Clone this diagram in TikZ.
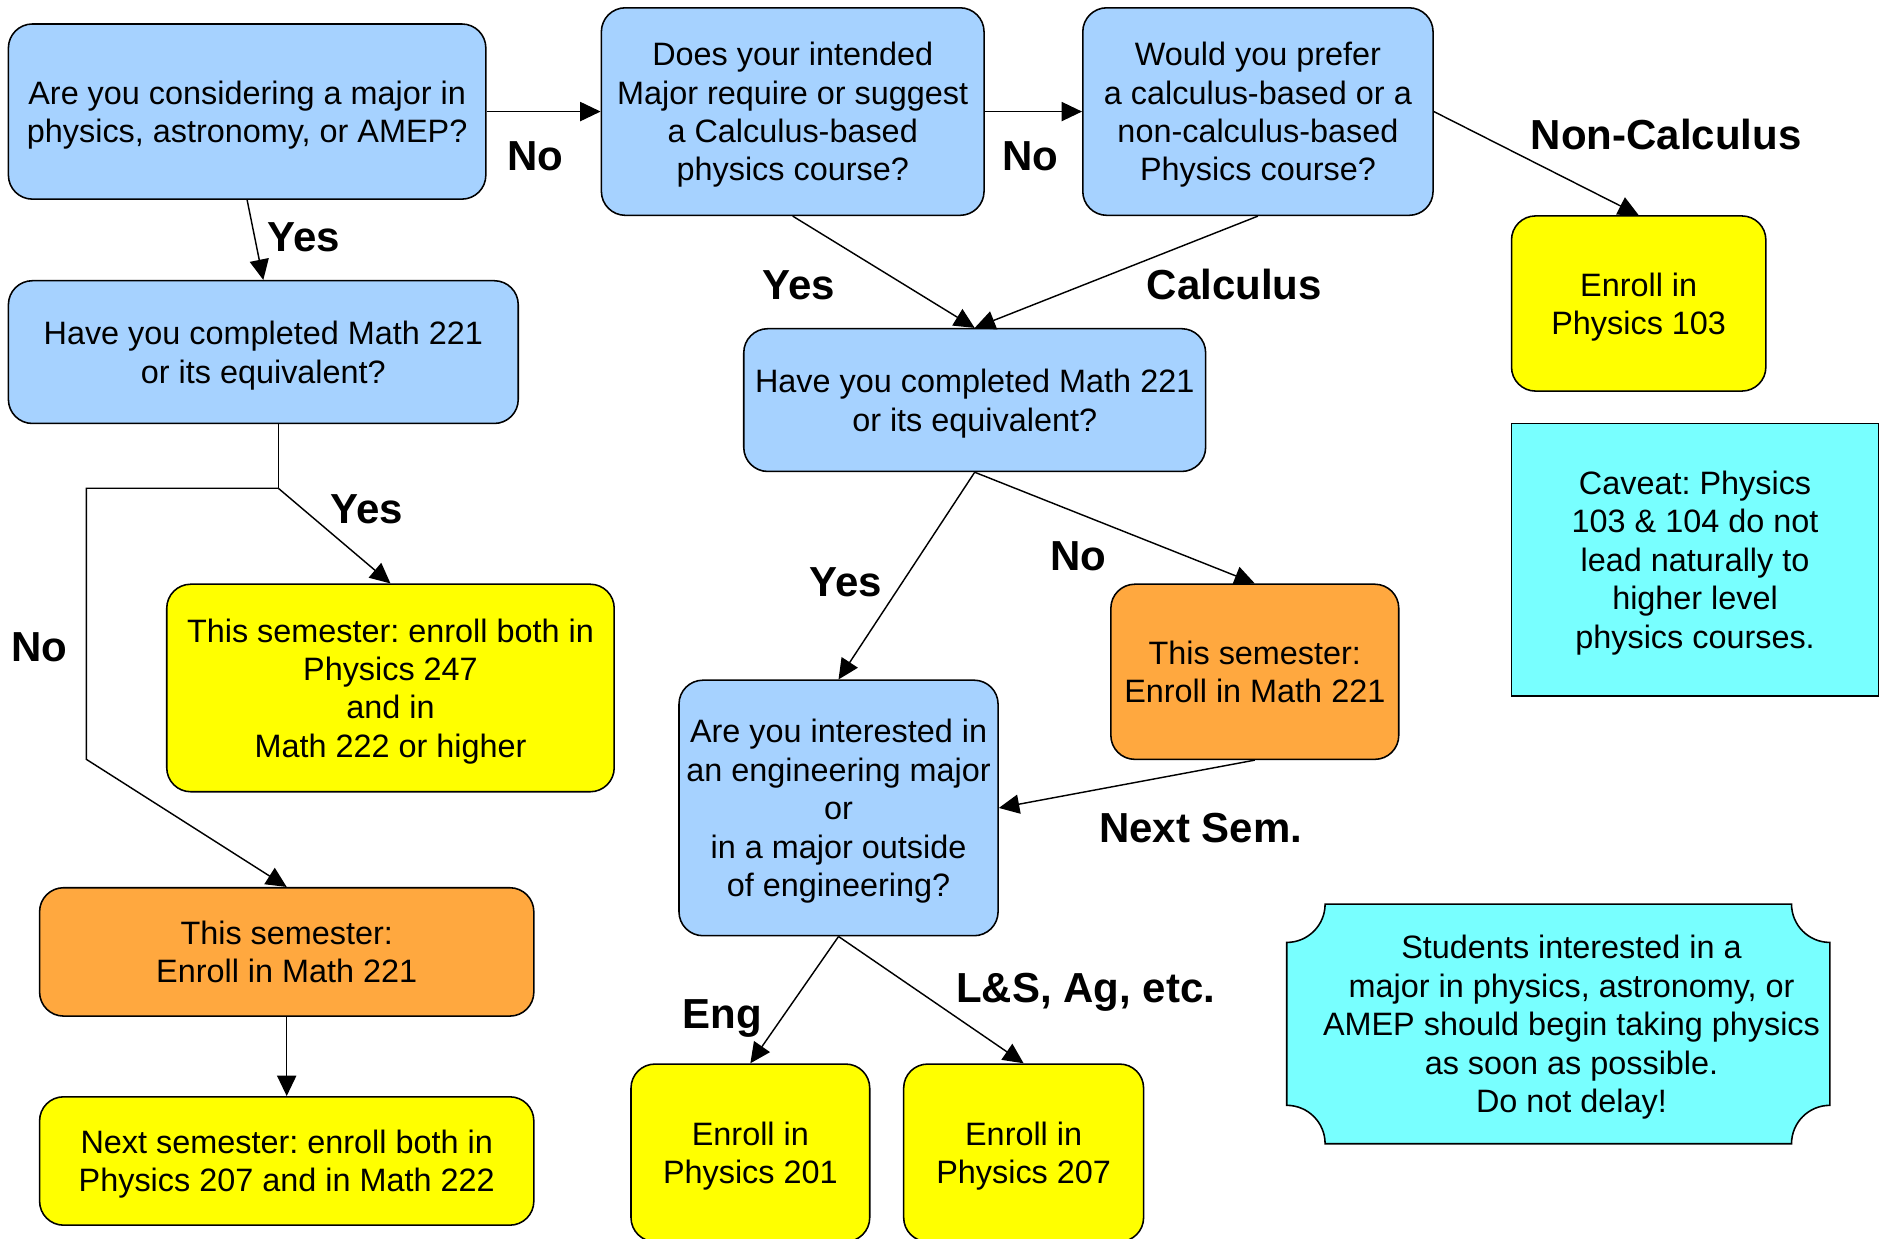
\documentclass[tikz,border=0pt]{standalone}
\usepackage{fontspec}
\setmainfont{Liberation Sans}
\usetikzlibrary{positioning,arrows.meta,backgrounds}

\definecolor{qblue}{HTML}{A6D2FF}
\definecolor{yel}{HTML}{FFFF00}
\definecolor{org}{HTML}{FFA83F}
\definecolor{cyn}{HTML}{78FFFF}

\newcommand{\boxfont}{\fontsize{13.5}{16}\selectfont\frenchspacing}
\newcommand{\lblfont}{\fontsize{17.5}{20}\selectfont\bfseries}

\tikzset{
  txt/.style={align=center, inner sep=2pt, font=\boxfont, text depth=-1.2pt},
  box/.style={txt, draw, line width=0.65pt, rounded corners=10pt},
  qbox/.style={box, fill=qblue},
  ybox/.style={box, fill=yel},
  obox/.style={box, fill=org},
  lbl/.style={font=\lblfont, inner sep=0pt, text height=12.5pt, text depth=0pt},
  arr/.style={-{Triangle[length=8.5pt,width=8pt]}, line width=0.6pt},
}

\begin{document}
\begin{tikzpicture}[x=0.5pt,y=-0.5pt]
\useasboundingbox (0,0) rectangle (1568,1032);

% questions
\node[qbox, minimum width=199pt, minimum height=73pt](q1) at (206,93)
  {Are you considering a major in\\physics, astronomy, or AMEP?};
\node[qbox, minimum width=159.5pt, minimum height=86.5pt](q2)[right=47.5pt of q1]
  {Does your intended\\Major require or suggest\\a Calculus-based\\physics course?};
\node[qbox, minimum width=146pt, minimum height=86.5pt](q3)[right=40.5pt of q2]
  {Would you prefer\\a calculus-based or a\\non-calculus-based\\Physics course?};
\node[qbox, minimum width=212.5pt, minimum height=59.5pt](q4) at (219.5,293.5)
  {Have you completed Math 221\\or its equivalent?};
\node[qbox, minimum width=192.5pt, minimum height=59.5pt](q5) at (812.5,333.5)
  {Have you completed Math 221\\or its equivalent?};
\node[qbox, minimum width=133pt, minimum height=106.5pt](q6) at (699,673.5)
  {Are you interested in\\an engineering major\\or\\in a major outside\\of engineering?};

% outcomes
\node[ybox, minimum width=106pt, minimum height=73pt](e103) at (1366,253)
  {Enroll in\\Physics 103};
\node[ybox, minimum width=186.5pt, minimum height=86.5pt](y247) at (325.5,573.5)
  {This semester: enroll both in\\Physics 247\\and in\\Math 222 or higher};
\node[obox, minimum width=206pt, minimum height=53.5pt](o221a) at (239,793.5)
  {This semester:\\Enroll in Math 221};
\node[ybox, minimum width=206pt, minimum height=53.5pt](y207)[below=33pt of o221a]
  {Next semester: enroll both in\\Physics 207 and in Math 222};
\node[obox, minimum width=120pt, minimum height=73pt](o221b) at (1046,560)
  {This semester:\\Enroll in Math 221};
\node[ybox, minimum width=99.5pt, minimum height=74pt](e201) at (625.5,961)
  {Enroll in\\Physics 201};
\node[ybox, minimum width=100pt, minimum height=74pt](e207)[right=13.5pt of e201]
  {Enroll in\\Physics 207};

% notes
\node[txt, draw, line width=0.65pt, fill=cyn,
  minimum width=153pt, minimum height=113.5pt](caveat) at (1413,466.5)
  {Caveat: Physics\\103 \& 104 do not\\lead naturally to\\higher level\\physics courses.};
\node[txt, minimum width=226pt, minimum height=99.5pt](note) at (1310,853.5)
  {Students interested in a\\major in physics, astronomy, or\\AMEP should begin taking physics\\as soon as possible.\\Do not delay!};
\begin{scope}[on background layer]
\draw[line width=0.65pt, fill=cyn]
  ([xshift=10.5pt]note.north west) -- ([xshift=-21.5pt]note.north east)
  arc[start angle=180, end angle=270, radius=16pt]
  -- ([xshift=-5.5pt,yshift=16pt]note.south east)
  arc[start angle=90, end angle=180, radius=16pt]
  -- ([xshift=10.5pt]note.south west)
  arc[start angle=0, end angle=90, radius=16pt]
  -- ([xshift=-5.5pt,yshift=-16pt]note.north west)
  arc[start angle=270, end angle=360, radius=16pt] -- cycle;
\end{scope}

% connectors
\coordinate (split) at (232,407);
\coordinate (bendA) at (72,407);
\coordinate (bendB) at (72,633);
\path[arr] (q1.east) edge (q2.west)
           (q1.south) edge (q4.north)
           (q2.east) edge (q3.west)
           (q3.east) edge (e103.north)
           (q2.south) edge (q5.north)
           (q3.south) edge (q5.north)
           (split) edge (y247.north)
           (o221a) edge (y207)
           (q5.south) edge (q6.north)
           (q5.south) edge (o221b.north)
           (o221b.south) edge (q6.east)
           (q6.south) edge (e201.north)
           (q6.south) edge (e207.north);
\draw[line width=0.6pt] (q4.south -| split) -- (split);
\draw[arr] (split) -- (bendA) -- (bendB) -- (o221a.north);

% labels
\node[lbl](l1) at (446,130){No};
\node[lbl](l2) at (253,197){Yes};
\node[lbl](l3) at (859,130){No};
\node[lbl](l4) at (1389,112){Non-Calculus};
\node[lbl](l5) at (666,237){Yes};
\node[lbl](l6) at (1029,237){Calculus};
\node[lbl](l7) at (306,424){Yes};
\node[lbl](l8) at (33,539){No};
\node[lbl](l9) at (705,485){Yes};
\node[lbl](l10) at (899,463){No};
\node[lbl](l11) at (1001,690){Next Sem.};
\node[lbl](l12) at (602,845){Eng};
\node[lbl](l13) at (905,823){L\&S, Ag, etc.};
\end{tikzpicture}
\end{document}
